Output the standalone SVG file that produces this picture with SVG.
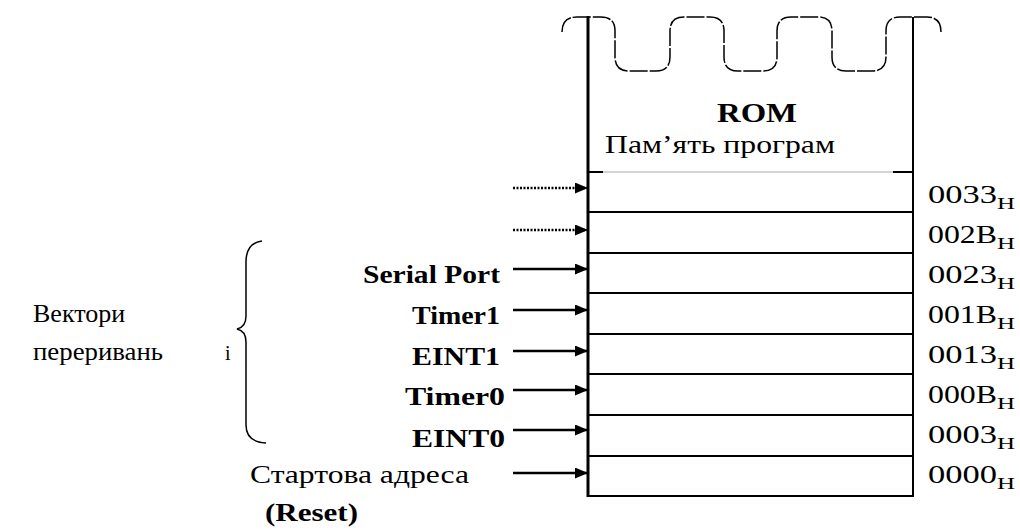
<svg xmlns="http://www.w3.org/2000/svg" width="1020" height="530" viewBox="0 0 1020 530">
<defs>
<marker id="ah" markerWidth="13" markerHeight="11" refX="13" refY="5.5" orient="auto" markerUnits="userSpaceOnUse">
<path d="M0,0 L13,5.5 L0,11 Z" fill="#000"/>
</marker>
<style>
.t{font-family:"Liberation Serif","Times New Roman",serif;fill:#000}
.b{font-weight:bold}
.ln{stroke:#000;stroke-width:2;fill:none}
.arr{stroke:#000;stroke-width:2.5;fill:none;marker-end:url(#ah)}
.dot{stroke-dasharray:2 1.5}
.addr{font-size:26px}
.sub{font-size:17px}
</style>
</defs>
<rect width="1020" height="530" fill="#fff"/>

<g id="rom">
<path d="M562,32 Q562,17 577,17 L601,17 Q615,17 615,31 L615,57 Q615,71 629,71 L656,71 Q670,71 670,57 L670,31 Q670,17 684,17 L710,17 Q724,17 724,31 L724,57 Q724,71 738,71 L763,71 Q777,71 777,57 L777,31 Q777,17 791,17 L818,17 Q832,17 832,31 L832,57 Q832,71 846,71 L872,71 Q886,71 886,57 L886,31 Q886,17 900,17 L927,17 Q941,17 941,32" fill="none" stroke="#000" stroke-width="1.5" stroke-dasharray="18 2"/>
<line x1="588" y1="16" x2="588" y2="497" stroke="#000" stroke-width="3"/>
<line x1="913" y1="17" x2="913" y2="497" stroke="#000" stroke-width="2"/>
<line x1="603" y1="172" x2="893" y2="172" stroke="#aaa" stroke-width="1"/>
<line x1="588" y1="172" x2="603" y2="172" class="ln"/>
<line x1="893" y1="172" x2="913" y2="172" class="ln"/>
<text class="t b" x="717" y="122" font-size="28" textLength="80" lengthAdjust="spacingAndGlyphs">ROM</text>
<text class="t" x="605" y="153" font-size="26" textLength="230" lengthAdjust="spacingAndGlyphs">Пам’ять програм</text>
</g>

<g id="rows">
<line x1="588" y1="212" x2="913" y2="212" class="ln"/>
<line x1="588" y1="253" x2="913" y2="253" class="ln"/>
<line x1="588" y1="293" x2="913" y2="293" class="ln"/>
<line x1="588" y1="334" x2="913" y2="334" class="ln"/>
<line x1="588" y1="374" x2="913" y2="374" class="ln"/>
<line x1="588" y1="415" x2="913" y2="415" class="ln"/>
<line x1="588" y1="456" x2="913" y2="456" class="ln"/>
<line x1="587" y1="496" x2="914" y2="496" class="ln"/>
</g>

<g id="addresses">
<text class="t addr" x="928" y="203" textLength="69" lengthAdjust="spacingAndGlyphs">0033</text><text class="t sub" x="997" y="209" textLength="18" lengthAdjust="spacingAndGlyphs">H</text>
<text class="t addr" x="928" y="243" textLength="69" lengthAdjust="spacingAndGlyphs">002B</text><text class="t sub" x="997" y="249" textLength="18" lengthAdjust="spacingAndGlyphs">H</text>
<text class="t addr" x="928" y="283" textLength="69" lengthAdjust="spacingAndGlyphs">0023</text><text class="t sub" x="997" y="289" textLength="18" lengthAdjust="spacingAndGlyphs">H</text>
<text class="t addr" x="928" y="323" textLength="69" lengthAdjust="spacingAndGlyphs">001B</text><text class="t sub" x="997" y="329" textLength="18" lengthAdjust="spacingAndGlyphs">H</text>
<text class="t addr" x="928" y="363" textLength="69" lengthAdjust="spacingAndGlyphs">0013</text><text class="t sub" x="997" y="369" textLength="18" lengthAdjust="spacingAndGlyphs">H</text>
<text class="t addr" x="928" y="403" textLength="69" lengthAdjust="spacingAndGlyphs">000B</text><text class="t sub" x="997" y="409" textLength="18" lengthAdjust="spacingAndGlyphs">H</text>
<text class="t addr" x="928" y="443" textLength="69" lengthAdjust="spacingAndGlyphs">0003</text><text class="t sub" x="997" y="449" textLength="18" lengthAdjust="spacingAndGlyphs">H</text>
<text class="t addr" x="928" y="483" textLength="69" lengthAdjust="spacingAndGlyphs">0000</text><text class="t sub" x="997" y="489" textLength="18" lengthAdjust="spacingAndGlyphs">H</text>
</g>

<g id="connectors">
<line x1="513" y1="188" x2="588" y2="188" class="arr dot"/>
<line x1="513" y1="230" x2="588" y2="230" class="arr dot"/>
<line x1="513" y1="269" x2="588" y2="269" class="arr"/>
<line x1="513" y1="310" x2="588" y2="310" class="arr"/>
<line x1="513" y1="351" x2="588" y2="351" class="arr"/>
<line x1="513" y1="390" x2="588" y2="390" class="arr"/>
<line x1="513" y1="430" x2="588" y2="430" class="arr"/>
<line x1="513" y1="473" x2="588" y2="473" class="arr"/>
</g>

<g id="labels">
<text class="t b" x="363" y="283" font-size="26" textLength="137" lengthAdjust="spacingAndGlyphs">Serial Port</text>
<text class="t b" x="412" y="324" font-size="26" textLength="88" lengthAdjust="spacingAndGlyphs">Timer1</text>
<text class="t b" x="412" y="365" font-size="26" textLength="88" lengthAdjust="spacingAndGlyphs">EINT1</text>
<text class="t b" x="405" y="405" font-size="26" textLength="100" lengthAdjust="spacingAndGlyphs">Timer0</text>
<text class="t b" x="412" y="447" font-size="26" textLength="93" lengthAdjust="spacingAndGlyphs">EINT0</text>
<text class="t" x="250" y="483" font-size="26" textLength="219" lengthAdjust="spacingAndGlyphs">Стартова адреса</text>
<text class="t b" x="265" y="521" font-size="26" textLength="93" lengthAdjust="spacingAndGlyphs">(Reset)</text>
</g>

<g id="vectors">
<path d="M262,241 Q246,243 246,262 L246,316 Q246,327 237,329 Q246,331 246,342 L246,425 Q246,442 266,443" fill="none" stroke="#000" stroke-width="1.5"/>
<text class="t" x="33" y="322" font-size="26">Вектори</text>
<text class="t" x="33" y="360" font-size="26" textLength="130" lengthAdjust="spacingAndGlyphs">переривань</text>
<text class="t" x="225" y="360" font-size="20">і</text>
</g>
</svg>
